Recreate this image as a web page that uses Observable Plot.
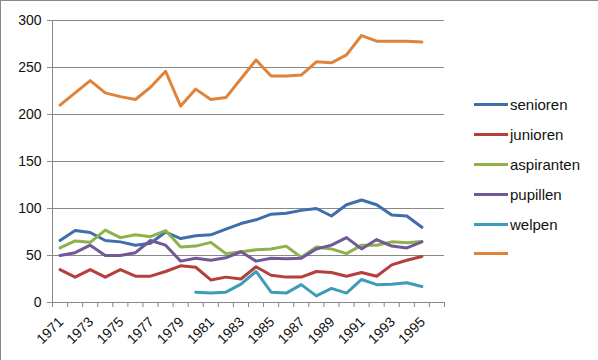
<!DOCTYPE html>
<html><head><meta charset="utf-8">
<script src="https://cdn.jsdelivr.net/npm/d3@7"></script>
<script src="https://cdn.jsdelivr.net/npm/@observablehq/plot@0.6"></script>
<style>
html,body{margin:0;padding:0;background:#fff;}
#wrap{position:relative;width:598px;height:360px;box-sizing:border-box;border-top:1px solid #888;border-left:1px solid #888;font-family:"Liberation Sans",Arial,sans-serif;}
#chart{position:absolute;left:0;top:-1px;}
#legend{position:absolute;left:473px;top:89px;font-size:15px;color:#111;}
.item{display:flex;align-items:center;height:29.8px;}
.sw{width:34px;height:3px;margin-right:2px;}
</style></head><body>
<div id="wrap"><div id="chart"></div><div id="legend"></div></div>
<script>
const years = [1971,1972,1973,1974,1975,1976,1977,1978,1979,1980,1981,1982,1983,1984,1985,1986,1987,1988,1989,1990,1991,1992,1993,1994,1995];
const senioren   = [66,76.5,74.5,66,64.5,61,63,75,68,71,72,78,84,88,94,95,98,100,92,104,109,104,93,92,80];
const junioren   = [35,27,35,27,35,28,28,33,39,37.5,24,27,25,38,29,27,27,33,32,28,32,28,40,45,49];
const aspiranten = [58,65.5,64,77,69,72,70,76.5,59,60,64,52,54,56,57,60,48,59,57,52,61,61,64.5,63.5,65];
const pupillen   = [50,53,61,50,50,53,66,61,44,47,45,47.5,54,44,47,46.5,47,57,61,69,57,67,60,58,64.5];
const welpen     = [null,null,null,null,null,null,null,null,null,11,10,11,19.5,33,11,10,19,7,15,10,24.5,19,19.5,21,17];
const totaal     = [210,223,236,223,219,216,229,246,209,227,216,218,238,258,241,241,242,256,255,263.5,284,278,278,278,277];
const seriesNames = ["senioren","junioren","aspiranten","pupillen","welpen",""];
const seriesValues = [senioren,junioren,aspiranten,pupillen,welpen,totaal];
const colors = ["#3e6eac","#b3403d","#8db14b","#71589a","#3d9db8","#e0833a"];
const yTicks = [0,50,100,150,200,250,300];
const xLabels = [1971,1973,1975,1977,1979,1981,1983,1985,1987,1989,1991,1993,1995];

const rows = [];
seriesValues.forEach((vals,si) => vals.forEach((v,i) => rows.push({key: si, year: years[i], value: v})));
const slotEdges = d3.range(1970.5, 1997, 1);

const chart = Plot.plot({
  width: 460, height: 361,
  marginLeft: 51, marginRight: 17, marginTop: 20, marginBottom: 59,
  style: {fontFamily: '"Liberation Sans", Arial, sans-serif', fontSize: "14px", color: "#111", background: "transparent"},
  x: {domain: [1970.5, 1996.5], label: null},
  y: {domain: [0, 300], label: null},
  marks: [
    Plot.gridY(yTicks.filter(d => d > 0), {stroke: "#888", strokeOpacity: 1, x1: 1970.5 - 0.33, x2: 1996.5}),
    Plot.axisY(yTicks, {tickSize: 5, tickPadding: 6, stroke: "#888", fontSize: 14, fill: "#111"}),
    Plot.ruleX([1970.5], {stroke: "#888"}),
    Plot.ruleY([0], {stroke: "#888"}),
    Plot.axisX(slotEdges, {tickSize: 5, tickFormat: () => "", stroke: "#888"}),
    Plot.axisX(xLabels, {tickSize: 0, tickRotate: -45, tickPadding: 17, dx: 1, tickFormat: d => String(d), fontSize: 14, fill: "#111"}),
    ...seriesValues.map((vals, si) => Plot.line(rows.filter(r => r.key === si), {
      x: "year", y: "value", stroke: colors[si], strokeWidth: 3, strokeLinejoin: "round", strokeLinecap: "round"
    }))
  ]
});
document.getElementById("chart").appendChild(chart);

const leg = document.getElementById("legend");
seriesNames.forEach((n, i) => {
  const it = document.createElement("div"); it.className = "item";
  const sw = document.createElement("div"); sw.className = "sw"; sw.style.background = colors[i];
  const tx = document.createElement("span"); tx.textContent = n;
  it.appendChild(sw); it.appendChild(tx); leg.appendChild(it);
});
</script>
</body></html>
